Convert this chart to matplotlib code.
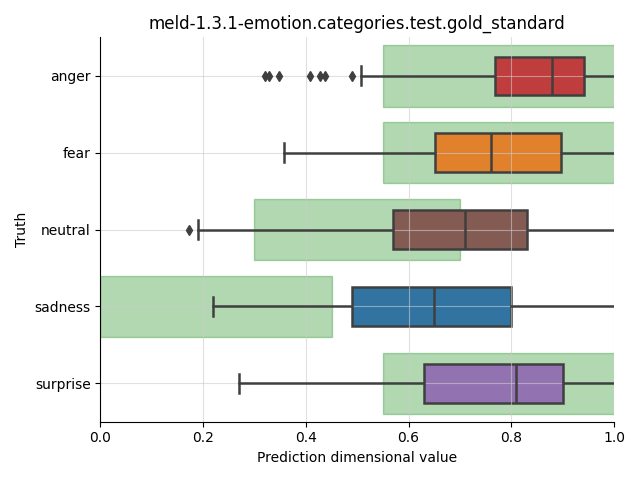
import numpy as np
import matplotlib
matplotlib.use('Agg')
from matplotlib import pyplot as plt

categories = ['anger', 'fear', 'neutral', 'sadness', 'surprise']
colors = ['#c03d3e', '#e1812c', '#845b53', '#3274a1', '#9372b2']

whisker_low = [0.508, 0.358, 0.190, 0.219, 0.270]
q1 = [0.768, 0.652, 0.569, 0.489, 0.630]
median = [0.879, 0.760, 0.710, 0.649, 0.809]
q3 = [0.942, 0.897, 0.831, 0.799, 0.900]
whisker_high = [1.02, 1.02, 1.02, 1.02, 1.02]
fliers = [
    [0.320, 0.328, 0.348, 0.408, 0.428, 0.437, 0.489],
    [],
    [0.172],
    [],
    [],
]

# gold-standard ranges per category
span_low = [0.55, 0.55, 0.30, 0.0, 0.55]
span_high = [1.02, 1.02, 0.70, 0.45, 1.02]

fig, ax = plt.subplots(figsize=(6.4, 4.8), dpi=100)

pos = np.arange(len(categories))
ax.barh(pos, np.array(span_high) - np.array(span_low), left=span_low, height=0.8,
        color='green', alpha=0.3, edgecolor='green', linewidth=1, zorder=0.5)

stats = []
for i, c in enumerate(categories):
    stats.append(dict(label=c, whislo=whisker_low[i], q1=q1[i], med=median[i],
                      q3=q3[i], whishi=whisker_high[i], fliers=fliers[i]))

lc = '#3f3f3f'
lw = 1.8
bp = ax.bxp(stats, positions=pos, widths=0.5, vert=False, patch_artist=True,
            boxprops=dict(edgecolor=lc, linewidth=lw),
            medianprops=dict(color=lc, linewidth=lw),
            whiskerprops=dict(color=lc, linewidth=lw),
            capprops=dict(color=lc, linewidth=lw),
            flierprops=dict(marker='d', markerfacecolor=lc, markeredgecolor=lc, markersize=5.5))
for patch, col in zip(bp['boxes'], colors):
    patch.set_facecolor(col)
    patch.set_zorder(1)

# grid sits between the boxes and the whisker lines
ax.grid(True, color='#cccccc', alpha=0.6, linewidth=0.8)
ax.set_xlim(0, 1)
ax.set_ylim(4.5, -0.5)
ax.set_yticks(pos)
ax.set_yticklabels(categories)
ax.spines['top'].set_visible(False)
ax.spines['right'].set_visible(False)

ax.set_title('meld-1.3.1-emotion.categories.test.gold_standard')
ax.set_xlabel('Prediction dimensional value')
ax.set_ylabel('Truth')

plt.tight_layout()
plt.savefig('out.png')
